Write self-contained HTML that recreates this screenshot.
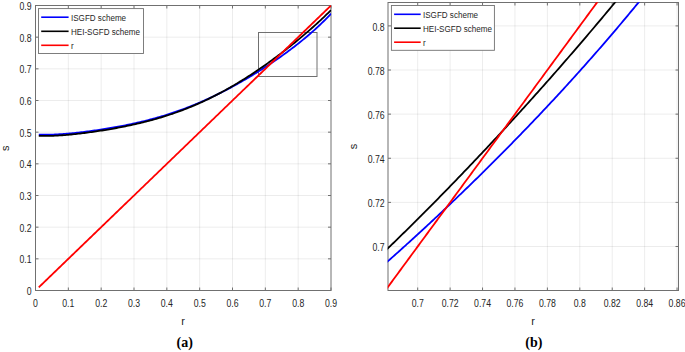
<!DOCTYPE html><html><head><meta charset="utf-8"><style>html,body{margin:0;padding:0;background:#fff;width:685px;height:352px;overflow:hidden}svg{display:block}text{font-family:"Liberation Sans",sans-serif;fill:#262626}</style></head><body>
<svg width="685" height="352" viewBox="0 0 685 352">
<rect width="685" height="352" fill="#fff"/>
<path d="M68.33 5.50V290.50M101.17 5.50V290.50M134.00 5.50V290.50M166.83 5.50V290.50M199.67 5.50V290.50M232.50 5.50V290.50M265.33 5.50V290.50M298.17 5.50V290.50" stroke="#000" stroke-opacity="0.075" stroke-width="1.0" fill="none"/>
<path d="M35.50 258.83H331.00M35.50 227.17H331.00M35.50 195.50H331.00M35.50 163.83H331.00M35.50 132.17H331.00M35.50 100.50H331.00M35.50 68.83H331.00M35.50 37.17H331.00" stroke="#000" stroke-opacity="0.075" stroke-width="1.0" fill="none"/>
<path d="M35.50 290.50v-3M35.50 5.50v3M68.33 290.50v-3M68.33 5.50v3M101.17 290.50v-3M101.17 5.50v3M134.00 290.50v-3M134.00 5.50v3M166.83 290.50v-3M166.83 5.50v3M199.67 290.50v-3M199.67 5.50v3M232.50 290.50v-3M232.50 5.50v3M265.33 290.50v-3M265.33 5.50v3M298.17 290.50v-3M298.17 5.50v3M331.00 290.50v-3M331.00 5.50v3M35.50 290.50h3M331.00 290.50h-3M35.50 258.83h3M331.00 258.83h-3M35.50 227.17h3M331.00 227.17h-3M35.50 195.50h3M331.00 195.50h-3M35.50 163.83h3M331.00 163.83h-3M35.50 132.17h3M331.00 132.17h-3M35.50 100.50h3M331.00 100.50h-3M35.50 68.83h3M331.00 68.83h-3M35.50 37.17h3M331.00 37.17h-3M35.50 5.50h3M331.00 5.50h-3" stroke="#707070" stroke-width="1" fill="none"/>
<rect x="35.50" y="5.50" width="295.50" height="285.00" stroke="#707070" stroke-width="1" fill="none"/>
<rect x="258.5" y="32.5" width="58.5" height="44" fill="none" stroke="#707070" stroke-width="1"/>
<clipPath id="cl"><rect x="35.2" y="5.2" width="296.1" height="285.6"/></clipPath>
<g clip-path="url(#cl)" fill="none" stroke-width="1.8" stroke-linejoin="round">
<path d="M38.78 134.56 L40.25 134.61 L41.72 134.65 L43.19 134.68 L44.66 134.69 L46.13 134.69 L47.59 134.68 L49.06 134.65 L50.53 134.62 L52.00 134.58 L53.47 134.53 L54.94 134.47 L56.40 134.40 L57.87 134.32 L59.34 134.24 L60.81 134.14 L62.28 134.05 L63.75 133.94 L65.21 133.83 L66.68 133.71 L68.15 133.58 L69.62 133.45 L71.09 133.31 L72.56 133.17 L74.03 133.03 L75.49 132.87 L76.96 132.72 L78.43 132.56 L79.90 132.39 L81.37 132.22 L82.84 132.04 L84.30 131.87 L85.77 131.68 L87.24 131.50 L88.71 131.30 L90.18 131.11 L91.65 130.91 L93.12 130.71 L94.58 130.50 L96.05 130.29 L97.52 130.08 L98.99 129.86 L100.46 129.64 L101.93 129.41 L103.39 129.18 L104.86 128.95 L106.33 128.71 L107.80 128.47 L109.27 128.23 L110.74 127.98 L112.20 127.73 L113.67 127.47 L115.14 127.21 L116.61 126.94 L118.08 126.67 L119.55 126.40 L121.02 126.12 L122.48 125.84 L123.95 125.55 L125.42 125.26 L126.89 124.96 L128.36 124.66 L129.83 124.35 L131.29 124.04 L132.76 123.73 L134.23 123.40 L135.70 123.08 L137.17 122.74 L138.64 122.41 L140.10 122.06 L141.57 121.71 L143.04 121.36 L144.51 121.00 L145.98 120.63 L147.45 120.26 L148.92 119.88 L150.38 119.49 L151.85 119.10 L153.32 118.71 L154.79 118.30 L156.26 117.89 L157.73 117.47 L159.19 117.05 L160.66 116.62 L162.13 116.18 L163.60 115.74 L165.07 115.29 L166.54 114.83 L168.00 114.37 L169.47 113.89 L170.94 113.41 L172.41 112.93 L173.88 112.43 L175.35 111.93 L176.82 111.43 L178.28 110.91 L179.75 110.39 L181.22 109.86 L182.69 109.32 L184.16 108.78 L185.63 108.22 L187.09 107.66 L188.56 107.09 L190.03 106.52 L191.50 105.94 L192.97 105.35 L194.44 104.75 L195.90 104.14 L197.37 103.53 L198.84 102.91 L200.31 102.28 L201.78 101.64 L203.25 101.00 L204.72 100.35 L206.18 99.69 L207.65 99.02 L209.12 98.35 L210.59 97.67 L212.06 96.98 L213.53 96.28 L214.99 95.58 L216.46 94.87 L217.93 94.15 L219.40 93.43 L220.87 92.69 L222.34 91.95 L223.80 91.20 L225.27 90.45 L226.74 89.68 L228.21 88.92 L229.68 88.14 L231.15 87.35 L232.62 86.56 L234.08 85.76 L235.55 84.96 L237.02 84.15 L238.49 83.33 L239.96 82.50 L241.43 81.66 L242.89 80.82 L244.36 79.98 L245.83 79.12 L247.30 78.26 L248.77 77.39 L250.24 76.51 L251.71 75.63 L253.17 74.74 L254.64 73.84 L256.11 72.94 L257.58 72.03 L259.05 71.11 L260.52 70.18 L261.98 69.25 L263.45 68.31 L264.92 67.36 L266.39 66.40 L267.86 65.44 L269.33 64.47 L270.79 63.49 L272.26 62.50 L273.73 61.51 L275.20 60.51 L276.67 59.50 L278.14 58.48 L279.61 57.45 L281.07 56.41 L282.54 55.37 L284.01 54.31 L285.48 53.25 L286.95 52.18 L288.42 51.09 L289.88 50.00 L291.35 48.90 L292.82 47.78 L294.29 46.66 L295.76 45.52 L297.23 44.37 L298.69 43.22 L300.16 42.04 L301.63 40.86 L303.10 39.66 L304.57 38.45 L306.04 37.23 L307.51 35.99 L308.97 34.73 L310.44 33.47 L311.91 32.18 L313.38 30.88 L314.85 29.56 L316.32 28.22 L317.78 26.87 L319.25 25.50 L320.72 24.10 L322.19 22.69 L323.66 21.25 L325.13 19.80 L326.59 18.32 L328.06 16.82 L329.53 15.29 L331.00 13.74" stroke="#0000ff"/>
<path d="M38.78 135.82 L40.25 135.87 L41.72 135.91 L43.19 135.93 L44.66 135.95 L46.13 135.95 L47.59 135.93 L49.06 135.91 L50.53 135.88 L52.00 135.83 L53.47 135.78 L54.94 135.71 L56.40 135.64 L57.87 135.56 L59.34 135.47 L60.81 135.38 L62.28 135.27 L63.75 135.16 L65.21 135.04 L66.68 134.92 L68.15 134.79 L69.62 134.65 L71.09 134.51 L72.56 134.36 L74.03 134.21 L75.49 134.05 L76.96 133.89 L78.43 133.73 L79.90 133.55 L81.37 133.38 L82.84 133.20 L84.30 133.01 L85.77 132.82 L87.24 132.63 L88.71 132.44 L90.18 132.23 L91.65 132.03 L93.12 131.82 L94.58 131.61 L96.05 131.40 L97.52 131.18 L98.99 130.95 L100.46 130.73 L101.93 130.50 L103.39 130.26 L104.86 130.03 L106.33 129.79 L107.80 129.54 L109.27 129.29 L110.74 129.04 L112.20 128.78 L113.67 128.52 L115.14 128.26 L116.61 127.99 L118.08 127.71 L119.55 127.44 L121.02 127.16 L122.48 126.87 L123.95 126.58 L125.42 126.28 L126.89 125.98 L128.36 125.68 L129.83 125.37 L131.29 125.05 L132.76 124.73 L134.23 124.41 L135.70 124.08 L137.17 123.74 L138.64 123.40 L140.10 123.06 L141.57 122.70 L143.04 122.34 L144.51 121.98 L145.98 121.61 L147.45 121.23 L148.92 120.85 L150.38 120.46 L151.85 120.06 L153.32 119.66 L154.79 119.25 L156.26 118.83 L157.73 118.41 L159.19 117.98 L160.66 117.54 L162.13 117.10 L163.60 116.65 L165.07 116.19 L166.54 115.72 L168.00 115.25 L169.47 114.76 L170.94 114.27 L172.41 113.78 L173.88 113.27 L175.35 112.76 L176.82 112.24 L178.28 111.71 L179.75 111.17 L181.22 110.62 L182.69 110.07 L184.16 109.50 L185.63 108.93 L187.09 108.35 L188.56 107.76 L190.03 107.17 L191.50 106.56 L192.97 105.95 L194.44 105.32 L195.90 104.69 L197.37 104.05 L198.84 103.40 L200.31 102.74 L201.78 102.08 L203.25 101.40 L204.72 100.72 L206.18 100.02 L207.65 99.32 L209.12 98.61 L210.59 97.89 L212.06 97.16 L213.53 96.42 L214.99 95.67 L216.46 94.92 L217.93 94.15 L219.40 93.38 L220.87 92.60 L222.34 91.81 L223.80 91.01 L225.27 90.20 L226.74 89.38 L228.21 88.55 L229.68 87.72 L231.15 86.88 L232.62 86.02 L234.08 85.16 L235.55 84.29 L237.02 83.42 L238.49 82.53 L239.96 81.64 L241.43 80.73 L242.89 79.82 L244.36 78.90 L245.83 77.98 L247.30 77.04 L248.77 76.10 L250.24 75.15 L251.71 74.19 L253.17 73.22 L254.64 72.24 L256.11 71.26 L257.58 70.27 L259.05 69.27 L260.52 68.26 L261.98 67.25 L263.45 66.22 L264.92 65.19 L266.39 64.16 L267.86 63.11 L269.33 62.06 L270.79 60.99 L272.26 59.93 L273.73 58.85 L275.20 57.76 L276.67 56.67 L278.14 55.57 L279.61 54.47 L281.07 53.35 L282.54 52.23 L284.01 51.10 L285.48 49.96 L286.95 48.81 L288.42 47.66 L289.88 46.50 L291.35 45.33 L292.82 44.15 L294.29 42.96 L295.76 41.77 L297.23 40.57 L298.69 39.36 L300.16 38.14 L301.63 36.91 L303.10 35.67 L304.57 34.42 L306.04 33.17 L307.51 31.90 L308.97 30.62 L310.44 29.34 L311.91 28.04 L313.38 26.74 L314.85 25.42 L316.32 24.09 L317.78 22.76 L319.25 21.41 L320.72 20.04 L322.19 18.67 L323.66 17.29 L325.13 15.89 L326.59 14.47 L328.06 13.05 L329.53 11.61 L331.00 10.16" stroke="#000000"/>
<path d="M38.78 287.33 L40.25 285.92 L41.72 284.50 L43.19 283.08 L44.66 281.67 L46.13 280.25 L47.59 278.84 L49.06 277.42 L50.53 276.00 L52.00 274.59 L53.47 273.17 L54.94 271.75 L56.40 270.34 L57.87 268.92 L59.34 267.51 L60.81 266.09 L62.28 264.67 L63.75 263.26 L65.21 261.84 L66.68 260.42 L68.15 259.01 L69.62 257.59 L71.09 256.18 L72.56 254.76 L74.03 253.34 L75.49 251.93 L76.96 250.51 L78.43 249.09 L79.90 247.68 L81.37 246.26 L82.84 244.85 L84.30 243.43 L85.77 242.01 L87.24 240.60 L88.71 239.18 L90.18 237.76 L91.65 236.35 L93.12 234.93 L94.58 233.52 L96.05 232.10 L97.52 230.68 L98.99 229.27 L100.46 227.85 L101.93 226.43 L103.39 225.02 L104.86 223.60 L106.33 222.19 L107.80 220.77 L109.27 219.35 L110.74 217.94 L112.20 216.52 L113.67 215.10 L115.14 213.69 L116.61 212.27 L118.08 210.86 L119.55 209.44 L121.02 208.02 L122.48 206.61 L123.95 205.19 L125.42 203.77 L126.89 202.36 L128.36 200.94 L129.83 199.53 L131.29 198.11 L132.76 196.69 L134.23 195.28 L135.70 193.86 L137.17 192.44 L138.64 191.03 L140.10 189.61 L141.57 188.20 L143.04 186.78 L144.51 185.36 L145.98 183.95 L147.45 182.53 L148.92 181.11 L150.38 179.70 L151.85 178.28 L153.32 176.87 L154.79 175.45 L156.26 174.03 L157.73 172.62 L159.19 171.20 L160.66 169.78 L162.13 168.37 L163.60 166.95 L165.07 165.54 L166.54 164.12 L168.00 162.70 L169.47 161.29 L170.94 159.87 L172.41 158.45 L173.88 157.04 L175.35 155.62 L176.82 154.21 L178.28 152.79 L179.75 151.37 L181.22 149.96 L182.69 148.54 L184.16 147.12 L185.63 145.71 L187.09 144.29 L188.56 142.88 L190.03 141.46 L191.50 140.04 L192.97 138.63 L194.44 137.21 L195.90 135.79 L197.37 134.38 L198.84 132.96 L200.31 131.55 L201.78 130.13 L203.25 128.71 L204.72 127.30 L206.18 125.88 L207.65 124.46 L209.12 123.05 L210.59 121.63 L212.06 120.22 L213.53 118.80 L214.99 117.38 L216.46 115.97 L217.93 114.55 L219.40 113.13 L220.87 111.72 L222.34 110.30 L223.80 108.89 L225.27 107.47 L226.74 106.05 L228.21 104.64 L229.68 103.22 L231.15 101.80 L232.62 100.39 L234.08 98.97 L235.55 97.56 L237.02 96.14 L238.49 94.72 L239.96 93.31 L241.43 91.89 L242.89 90.47 L244.36 89.06 L245.83 87.64 L247.30 86.23 L248.77 84.81 L250.24 83.39 L251.71 81.98 L253.17 80.56 L254.64 79.14 L256.11 77.73 L257.58 76.31 L259.05 74.90 L260.52 73.48 L261.98 72.06 L263.45 70.65 L264.92 69.23 L266.39 67.81 L267.86 66.40 L269.33 64.98 L270.79 63.57 L272.26 62.15 L273.73 60.73 L275.20 59.32 L276.67 57.90 L278.14 56.48 L279.61 55.07 L281.07 53.65 L282.54 52.24 L284.01 50.82 L285.48 49.40 L286.95 47.99 L288.42 46.57 L289.88 45.15 L291.35 43.74 L292.82 42.32 L294.29 40.91 L295.76 39.49 L297.23 38.07 L298.69 36.66 L300.16 35.24 L301.63 33.82 L303.10 32.41 L304.57 30.99 L306.04 29.58 L307.51 28.16 L308.97 26.74 L310.44 25.33 L311.91 23.91 L313.38 22.49 L314.85 21.08 L316.32 19.66 L317.78 18.25 L319.25 16.83 L320.72 15.41 L322.19 14.00 L323.66 12.58 L325.13 11.16 L326.59 9.75 L328.06 8.33 L329.53 6.92 L331.00 5.50" stroke="#ff0000"/>
</g>
<text transform="translate(35.50,306.50) scale(0.83,1)" font-size="10.5" text-anchor="middle" >0</text>
<text transform="translate(68.33,306.50) scale(0.83,1)" font-size="10.5" text-anchor="middle" >0.1</text>
<text transform="translate(101.17,306.50) scale(0.83,1)" font-size="10.5" text-anchor="middle" >0.2</text>
<text transform="translate(134.00,306.50) scale(0.83,1)" font-size="10.5" text-anchor="middle" >0.3</text>
<text transform="translate(166.83,306.50) scale(0.83,1)" font-size="10.5" text-anchor="middle" >0.4</text>
<text transform="translate(199.67,306.50) scale(0.83,1)" font-size="10.5" text-anchor="middle" >0.5</text>
<text transform="translate(232.50,306.50) scale(0.83,1)" font-size="10.5" text-anchor="middle" >0.6</text>
<text transform="translate(265.33,306.50) scale(0.83,1)" font-size="10.5" text-anchor="middle" >0.7</text>
<text transform="translate(298.17,306.50) scale(0.83,1)" font-size="10.5" text-anchor="middle" >0.8</text>
<text transform="translate(331.00,306.50) scale(0.83,1)" font-size="10.5" text-anchor="middle" >0.9</text>
<text transform="translate(31.50,295.10) scale(0.83,1)" font-size="10.5" text-anchor="end" >0</text>
<text transform="translate(31.50,263.43) scale(0.83,1)" font-size="10.5" text-anchor="end" >0.1</text>
<text transform="translate(31.50,231.77) scale(0.83,1)" font-size="10.5" text-anchor="end" >0.2</text>
<text transform="translate(31.50,200.10) scale(0.83,1)" font-size="10.5" text-anchor="end" >0.3</text>
<text transform="translate(31.50,168.43) scale(0.83,1)" font-size="10.5" text-anchor="end" >0.4</text>
<text transform="translate(31.50,136.77) scale(0.83,1)" font-size="10.5" text-anchor="end" >0.5</text>
<text transform="translate(31.50,105.10) scale(0.83,1)" font-size="10.5" text-anchor="end" >0.6</text>
<text transform="translate(31.50,73.43) scale(0.83,1)" font-size="10.5" text-anchor="end" >0.7</text>
<text transform="translate(31.50,41.77) scale(0.83,1)" font-size="10.5" text-anchor="end" >0.8</text>
<text transform="translate(31.50,10.10) scale(0.83,1)" font-size="10.5" text-anchor="end" >0.9</text>
<rect x="38.5" y="8.6" width="105.0" height="44.9" fill="#fff" stroke="#707070" stroke-width="0.9"/>
<path d="M41.2 17.2H68.6" stroke="#0000ff" stroke-width="1.6"/>
<text transform="translate(71.0,21.299999999999997) scale(0.85,1)" font-size="9.5">ISGFD scheme</text>
<path d="M41.2 31.3H68.6" stroke="#000000" stroke-width="1.6"/>
<text transform="translate(71.0,35.4) scale(0.85,1)" font-size="9.5">HEI-SGFD scheme</text>
<path d="M41.2 45.3H68.6" stroke="#ff0000" stroke-width="1.6"/>
<text transform="translate(71.0,49.4) scale(0.85,1)" font-size="9.5">r</text>
<text x="183.1" y="324.6" font-size="11" text-anchor="middle">r</text>
<text transform="translate(8.8,148.2) rotate(-90)" font-size="11" text-anchor="middle">s</text>
<text x="184.7" y="347.0" font-size="14" text-anchor="middle" style="font-family:'Liberation Serif',serif;font-weight:bold;fill:#000">(a)</text>
<path d="M417.70 2.50V290.50M450.12 2.50V290.50M482.54 2.50V290.50M514.96 2.50V290.50M547.38 2.50V290.50M579.80 2.50V290.50M612.22 2.50V290.50M644.64 2.50V290.50M677.06 2.50V290.50" stroke="#000" stroke-opacity="0.075" stroke-width="1.0" fill="none"/>
<path d="M388.00 246.50H678.50M388.00 202.38H678.50M388.00 158.26H678.50M388.00 114.14H678.50M388.00 70.02H678.50M388.00 25.90H678.50" stroke="#000" stroke-opacity="0.075" stroke-width="1.0" fill="none"/>
<path d="M417.70 290.50v-3M417.70 2.50v3M450.12 290.50v-3M450.12 2.50v3M482.54 290.50v-3M482.54 2.50v3M514.96 290.50v-3M514.96 2.50v3M547.38 290.50v-3M547.38 2.50v3M579.80 290.50v-3M579.80 2.50v3M612.22 290.50v-3M612.22 2.50v3M644.64 290.50v-3M644.64 2.50v3M677.06 290.50v-3M677.06 2.50v3M388.00 246.50h3M678.50 246.50h-3M388.00 202.38h3M678.50 202.38h-3M388.00 158.26h3M678.50 158.26h-3M388.00 114.14h3M678.50 114.14h-3M388.00 70.02h3M678.50 70.02h-3M388.00 25.90h3M678.50 25.90h-3" stroke="#707070" stroke-width="1" fill="none"/>
<rect x="388.00" y="2.50" width="290.50" height="288.00" stroke="#707070" stroke-width="1" fill="none"/>
<clipPath id="cr"><rect x="387.7" y="2.2" width="291.1" height="288.6"/></clipPath>
<g clip-path="url(#cr)" fill="none" stroke-width="1.8" stroke-linejoin="round">
<path d="M379.89 268.31 L381.40 266.99 L382.90 265.67 L384.40 264.34 L385.90 263.01 L387.40 261.68 L388.90 260.35 L390.40 259.02 L391.90 257.68 L393.40 256.34 L394.90 255.00 L396.40 253.66 L397.90 252.31 L399.40 250.96 L400.90 249.61 L402.40 248.26 L403.90 246.91 L405.40 245.55 L406.90 244.19 L408.41 242.83 L409.91 241.47 L411.41 240.11 L412.91 238.74 L414.41 237.37 L415.91 236.00 L417.41 234.62 L418.91 233.25 L420.41 231.87 L421.91 230.49 L423.41 229.10 L424.91 227.72 L426.41 226.33 L427.91 224.94 L429.41 223.55 L430.91 222.16 L432.41 220.76 L433.91 219.36 L435.41 217.96 L436.92 216.56 L438.42 215.15 L439.92 213.74 L441.42 212.33 L442.92 210.92 L444.42 209.50 L445.92 208.09 L447.42 206.67 L448.92 205.25 L450.42 203.82 L451.92 202.39 L453.42 200.96 L454.92 199.53 L456.42 198.10 L457.92 196.66 L459.42 195.22 L460.92 193.78 L462.42 192.34 L463.92 190.89 L465.43 189.44 L466.93 187.99 L468.43 186.54 L469.93 185.08 L471.43 183.63 L472.93 182.16 L474.43 180.70 L475.93 179.24 L477.43 177.77 L478.93 176.30 L480.43 174.82 L481.93 173.35 L483.43 171.87 L484.93 170.39 L486.43 168.90 L487.93 167.42 L489.43 165.93 L490.93 164.44 L492.43 162.94 L493.94 161.45 L495.44 159.95 L496.94 158.44 L498.44 156.94 L499.94 155.43 L501.44 153.92 L502.94 152.41 L504.44 150.89 L505.94 149.38 L507.44 147.86 L508.94 146.33 L510.44 144.81 L511.94 143.28 L513.44 141.74 L514.94 140.21 L516.44 138.67 L517.94 137.13 L519.44 135.59 L520.94 134.04 L522.45 132.49 L523.95 130.94 L525.45 129.38 L526.95 127.83 L528.45 126.27 L529.95 124.70 L531.45 123.14 L532.95 121.57 L534.45 119.99 L535.95 118.42 L537.45 116.84 L538.95 115.26 L540.45 113.67 L541.95 112.08 L543.45 110.49 L544.95 108.90 L546.45 107.30 L547.95 105.70 L549.45 104.10 L550.96 102.49 L552.46 100.88 L553.96 99.27 L555.46 97.65 L556.96 96.03 L558.46 94.41 L559.96 92.78 L561.46 91.15 L562.96 89.52 L564.46 87.88 L565.96 86.24 L567.46 84.60 L568.96 82.95 L570.46 81.30 L571.96 79.65 L573.46 77.99 L574.96 76.33 L576.46 74.67 L577.96 73.00 L579.47 71.33 L580.97 69.65 L582.47 67.97 L583.97 66.29 L585.47 64.60 L586.97 62.91 L588.47 61.22 L589.97 59.52 L591.47 57.82 L592.97 56.12 L594.47 54.41 L595.97 52.70 L597.47 50.98 L598.97 49.26 L600.47 47.54 L601.97 45.81 L603.47 44.08 L604.97 42.34 L606.47 40.60 L607.98 38.86 L609.48 37.11 L610.98 35.36 L612.48 33.60 L613.98 31.84 L615.48 30.07 L616.98 28.31 L618.48 26.53 L619.98 24.76 L621.48 22.97 L622.98 21.19 L624.48 19.40 L625.98 17.60 L627.48 15.80 L628.98 14.00 L630.48 12.19 L631.98 10.38 L633.48 8.56 L634.98 6.74 L636.49 4.91 L637.99 3.08 L639.49 1.24 L640.99 -0.60 L642.49 -2.44 L643.99 -4.29 L645.49 -6.15 L646.99 -8.01 L648.49 -9.87 L649.99 -11.74 L651.49 -13.62 L652.99 -15.50 L654.49 -17.38 L655.99 -19.27 L657.49 -21.17 L658.99 -23.07 L660.49 -24.98 L661.99 -26.89 L663.49 -28.80 L665.00 -30.72 L666.50 -32.65 L668.00 -34.58 L669.50 -36.52 L671.00 -38.46 L672.50 -40.41 L674.00 -42.36 L675.50 -44.32 L677.00 -46.29 L678.50 -48.26" stroke="#0000ff"/>
<path d="M379.89 256.04 L381.40 254.60 L382.90 253.16 L384.40 251.72 L385.90 250.27 L387.40 248.83 L388.90 247.38 L390.40 245.93 L391.90 244.47 L393.40 243.02 L394.90 241.56 L396.40 240.10 L397.90 238.64 L399.40 237.17 L400.90 235.70 L402.40 234.23 L403.90 232.76 L405.40 231.29 L406.90 229.81 L408.41 228.33 L409.91 226.85 L411.41 225.37 L412.91 223.88 L414.41 222.39 L415.91 220.90 L417.41 219.41 L418.91 217.91 L420.41 216.42 L421.91 214.92 L423.41 213.41 L424.91 211.91 L426.41 210.40 L427.91 208.89 L429.41 207.38 L430.91 205.87 L432.41 204.35 L433.91 202.83 L435.41 201.31 L436.92 199.79 L438.42 198.27 L439.92 196.74 L441.42 195.21 L442.92 193.68 L444.42 192.14 L445.92 190.61 L447.42 189.07 L448.92 187.53 L450.42 185.98 L451.92 184.44 L453.42 182.89 L454.92 181.34 L456.42 179.79 L457.92 178.23 L459.42 176.68 L460.92 175.12 L462.42 173.55 L463.92 171.99 L465.43 170.42 L466.93 168.86 L468.43 167.29 L469.93 165.71 L471.43 164.14 L472.93 162.56 L474.43 160.98 L475.93 159.40 L477.43 157.81 L478.93 156.23 L480.43 154.64 L481.93 153.05 L483.43 151.45 L484.93 149.86 L486.43 148.26 L487.93 146.66 L489.43 145.06 L490.93 143.45 L492.43 141.84 L493.94 140.23 L495.44 138.62 L496.94 137.01 L498.44 135.39 L499.94 133.77 L501.44 132.15 L502.94 130.53 L504.44 128.90 L505.94 127.27 L507.44 125.64 L508.94 124.01 L510.44 122.37 L511.94 120.74 L513.44 119.10 L514.94 117.46 L516.44 115.81 L517.94 114.16 L519.44 112.51 L520.94 110.86 L522.45 109.21 L523.95 107.55 L525.45 105.89 L526.95 104.23 L528.45 102.57 L529.95 100.91 L531.45 99.24 L532.95 97.57 L534.45 95.89 L535.95 94.22 L537.45 92.54 L538.95 90.86 L540.45 89.18 L541.95 87.49 L543.45 85.81 L544.95 84.12 L546.45 82.43 L547.95 80.73 L549.45 79.03 L550.96 77.33 L552.46 75.63 L553.96 73.93 L555.46 72.22 L556.96 70.51 L558.46 68.80 L559.96 67.09 L561.46 65.37 L562.96 63.65 L564.46 61.93 L565.96 60.21 L567.46 58.48 L568.96 56.75 L570.46 55.02 L571.96 53.29 L573.46 51.55 L574.96 49.81 L576.46 48.07 L577.96 46.32 L579.47 44.58 L580.97 42.83 L582.47 41.08 L583.97 39.32 L585.47 37.57 L586.97 35.81 L588.47 34.04 L589.97 32.28 L591.47 30.51 L592.97 28.74 L594.47 26.97 L595.97 25.19 L597.47 23.41 L598.97 21.63 L600.47 19.85 L601.97 18.06 L603.47 16.28 L604.97 14.48 L606.47 12.69 L607.98 10.89 L609.48 9.09 L610.98 7.29 L612.48 5.49 L613.98 3.68 L615.48 1.87 L616.98 0.05 L618.48 -1.76 L619.98 -3.58 L621.48 -5.40 L622.98 -7.23 L624.48 -9.06 L625.98 -10.89 L627.48 -12.72 L628.98 -14.56 L630.48 -16.40 L631.98 -18.24 L633.48 -20.08 L634.98 -21.93 L636.49 -23.78 L637.99 -25.64 L639.49 -27.49 L640.99 -29.35 L642.49 -31.22 L643.99 -33.08 L645.49 -34.95 L646.99 -36.83 L648.49 -38.70 L649.99 -40.58 L651.49 -42.46 L652.99 -44.35 L654.49 -46.23 L655.99 -48.12 L657.49 -50.02 L658.99 -51.92 L660.49 -53.82 L661.99 -55.72 L663.49 -57.63 L665.00 -59.54 L666.50 -61.45 L668.00 -63.37 L669.50 -65.29 L671.00 -67.21 L672.50 -69.14 L674.00 -71.07 L675.50 -73.00 L677.00 -74.94 L678.50 -76.88" stroke="#000000"/>
<path d="M379.89 297.95 L381.40 295.91 L382.90 293.86 L384.40 291.82 L385.90 289.78 L387.40 287.74 L388.90 285.70 L390.40 283.65 L391.90 281.61 L393.40 279.57 L394.90 277.53 L396.40 275.49 L397.90 273.44 L399.40 271.40 L400.90 269.36 L402.40 267.32 L403.90 265.28 L405.40 263.23 L406.90 261.19 L408.41 259.15 L409.91 257.11 L411.41 255.07 L412.91 253.02 L414.41 250.98 L415.91 248.94 L417.41 246.90 L418.91 244.86 L420.41 242.81 L421.91 240.77 L423.41 238.73 L424.91 236.69 L426.41 234.64 L427.91 232.60 L429.41 230.56 L430.91 228.52 L432.41 226.48 L433.91 224.43 L435.41 222.39 L436.92 220.35 L438.42 218.31 L439.92 216.27 L441.42 214.22 L442.92 212.18 L444.42 210.14 L445.92 208.10 L447.42 206.06 L448.92 204.01 L450.42 201.97 L451.92 199.93 L453.42 197.89 L454.92 195.85 L456.42 193.80 L457.92 191.76 L459.42 189.72 L460.92 187.68 L462.42 185.64 L463.92 183.59 L465.43 181.55 L466.93 179.51 L468.43 177.47 L469.93 175.43 L471.43 173.38 L472.93 171.34 L474.43 169.30 L475.93 167.26 L477.43 165.22 L478.93 163.17 L480.43 161.13 L481.93 159.09 L483.43 157.05 L484.93 155.00 L486.43 152.96 L487.93 150.92 L489.43 148.88 L490.93 146.84 L492.43 144.79 L493.94 142.75 L495.44 140.71 L496.94 138.67 L498.44 136.63 L499.94 134.58 L501.44 132.54 L502.94 130.50 L504.44 128.46 L505.94 126.42 L507.44 124.37 L508.94 122.33 L510.44 120.29 L511.94 118.25 L513.44 116.21 L514.94 114.16 L516.44 112.12 L517.94 110.08 L519.44 108.04 L520.94 106.00 L522.45 103.95 L523.95 101.91 L525.45 99.87 L526.95 97.83 L528.45 95.79 L529.95 93.74 L531.45 91.70 L532.95 89.66 L534.45 87.62 L535.95 85.58 L537.45 83.53 L538.95 81.49 L540.45 79.45 L541.95 77.41 L543.45 75.36 L544.95 73.32 L546.45 71.28 L547.95 69.24 L549.45 67.20 L550.96 65.15 L552.46 63.11 L553.96 61.07 L555.46 59.03 L556.96 56.99 L558.46 54.94 L559.96 52.90 L561.46 50.86 L562.96 48.82 L564.46 46.78 L565.96 44.73 L567.46 42.69 L568.96 40.65 L570.46 38.61 L571.96 36.57 L573.46 34.52 L574.96 32.48 L576.46 30.44 L577.96 28.40 L579.47 26.36 L580.97 24.31 L582.47 22.27 L583.97 20.23 L585.47 18.19 L586.97 16.15 L588.47 14.10 L589.97 12.06 L591.47 10.02 L592.97 7.98 L594.47 5.94 L595.97 3.89 L597.47 1.85 L598.97 -0.19 L600.47 -2.23 L601.97 -4.28 L603.47 -6.32 L604.97 -8.36 L606.47 -10.40 L607.98 -12.44 L609.48 -14.49 L610.98 -16.53 L612.48 -18.57 L613.98 -20.61 L615.48 -22.65 L616.98 -24.70 L618.48 -26.74 L619.98 -28.78 L621.48 -30.82 L622.98 -32.86 L624.48 -34.91 L625.98 -36.95 L627.48 -38.99 L628.98 -41.03 L630.48 -43.07 L631.98 -45.12 L633.48 -47.16 L634.98 -49.20 L636.49 -51.24 L637.99 -53.28 L639.49 -55.33 L640.99 -57.37 L642.49 -59.41 L643.99 -61.45 L645.49 -63.49 L646.99 -65.54 L648.49 -67.58 L649.99 -69.62 L651.49 -71.66 L652.99 -73.70 L654.49 -75.75 L655.99 -77.79 L657.49 -79.83 L658.99 -81.87 L660.49 -83.92 L661.99 -85.96 L663.49 -88.00 L665.00 -90.04 L666.50 -92.08 L668.00 -94.13 L669.50 -96.17 L671.00 -98.21 L672.50 -100.25 L674.00 -102.29 L675.50 -104.34 L677.00 -106.38 L678.50 -108.42" stroke="#ff0000"/>
</g>
<text transform="translate(417.70,306.50) scale(0.83,1)" font-size="10.5" text-anchor="middle" >0.7</text>
<text transform="translate(450.12,306.50) scale(0.83,1)" font-size="10.5" text-anchor="middle" >0.72</text>
<text transform="translate(482.54,306.50) scale(0.83,1)" font-size="10.5" text-anchor="middle" >0.74</text>
<text transform="translate(514.96,306.50) scale(0.83,1)" font-size="10.5" text-anchor="middle" >0.76</text>
<text transform="translate(547.38,306.50) scale(0.83,1)" font-size="10.5" text-anchor="middle" >0.78</text>
<text transform="translate(579.80,306.50) scale(0.83,1)" font-size="10.5" text-anchor="middle" >0.8</text>
<text transform="translate(612.22,306.50) scale(0.83,1)" font-size="10.5" text-anchor="middle" >0.82</text>
<text transform="translate(644.64,306.50) scale(0.83,1)" font-size="10.5" text-anchor="middle" >0.84</text>
<text transform="translate(677.06,306.50) scale(0.83,1)" font-size="10.5" text-anchor="middle" >0.86</text>
<text transform="translate(384.60,251.10) scale(0.83,1)" font-size="10.5" text-anchor="end" >0.7</text>
<text transform="translate(384.60,206.98) scale(0.83,1)" font-size="10.5" text-anchor="end" >0.72</text>
<text transform="translate(384.60,162.86) scale(0.83,1)" font-size="10.5" text-anchor="end" >0.74</text>
<text transform="translate(384.60,118.74) scale(0.83,1)" font-size="10.5" text-anchor="end" >0.76</text>
<text transform="translate(384.60,74.62) scale(0.83,1)" font-size="10.5" text-anchor="end" >0.78</text>
<text transform="translate(384.60,30.50) scale(0.83,1)" font-size="10.5" text-anchor="end" >0.8</text>
<rect x="391.4" y="5.5" width="103.0" height="44.8" fill="#fff" stroke="#707070" stroke-width="0.9"/>
<path d="M394.1 14.3H420.7" stroke="#0000ff" stroke-width="1.6"/>
<text transform="translate(423.0,18.4) scale(0.85,1)" font-size="9.5">ISGFD scheme</text>
<path d="M394.1 28.2H420.7" stroke="#000000" stroke-width="1.6"/>
<text transform="translate(423.0,32.3) scale(0.85,1)" font-size="9.5">HEI-SGFD scheme</text>
<path d="M394.1 42.2H420.7" stroke="#ff0000" stroke-width="1.6"/>
<text transform="translate(423.0,46.300000000000004) scale(0.85,1)" font-size="9.5">r</text>
<text x="533.2" y="324.6" font-size="11" text-anchor="middle">r</text>
<text transform="translate(357.0,146.4) rotate(-90)" font-size="11" text-anchor="middle">s</text>
<text x="533.8" y="347.0" font-size="14" text-anchor="middle" style="font-family:'Liberation Serif',serif;font-weight:bold;fill:#000">(b)</text>
</svg></body></html>
